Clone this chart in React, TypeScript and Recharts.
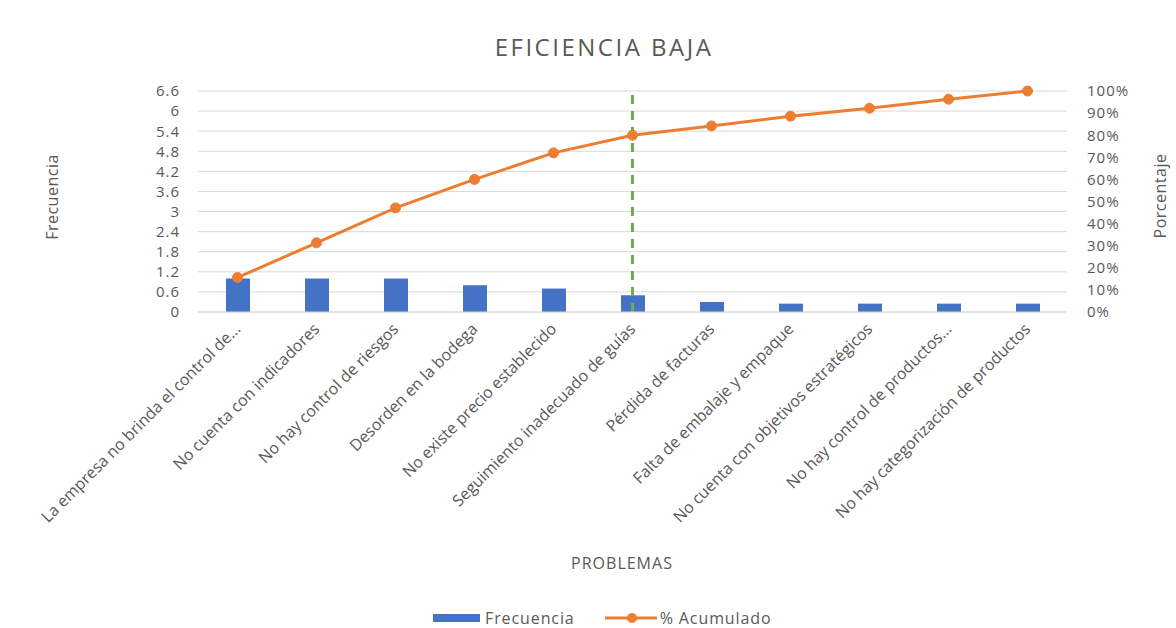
import React from 'react';
import {
  ComposedChart,
  Bar,
  Line,
  XAxis,
  YAxis,
  CartesianGrid,
  ReferenceLine,
  Legend,
} from 'recharts';

const problemas = [
  'La empresa no brinda el control de...',
  'No cuenta con indicadores',
  'No hay control de riesgos',
  'Desorden en la bodega',
  'No existe precio establecido',
  'Seguimiento inadecuado de guías',
  'Pérdida de facturas',
  'Falta de embalaje y empaque',
  'No cuenta con objetivos estratégicos',
  'No hay control de productos...',
  'No hay categorización de productos',
];

const frecuencia = [1, 1, 1, 0.8, 0.7, 0.5, 0.3, 0.25, 0.25, 0.25, 0.25];

const acumulado = [15.6, 31.3, 47.1, 60.0, 72.0, 80.0, 84.2, 88.6, 92.2, 96.3, 100];

const frecuenciaTicks = [0, 0.6, 1.2, 1.8, 2.4, 3, 3.6, 4.2, 4.8, 5.4, 6, 6.6];
const porcentajeTicks = [0, 10, 20, 30, 40, 50, 60, 70, 80, 90, 100];

// corte 80/20
const corte = problemas[5];

const data = problemas.map((name, i) => ({
  name,
  frecuencia: frecuencia[i],
  acumulado: acumulado[i],
}));

const FONT = '"Open Sans", sans-serif';
const TEXT = '#595959';

const XTick = (props: any) => {
  const { x, y, payload } = props;
  return (
    <g transform={`translate(${x + 4},${y + 10})`}>
      <text textAnchor="end" transform="rotate(-45)" fill={TEXT} fontSize={16} fontFamily={FONT}>
        {payload.value}
      </text>
    </g>
  );
};

const LegendContent = () => (
  <div style={{ display: 'flex', alignItems: 'center', marginLeft: 433, fontFamily: FONT, fontSize: 16, letterSpacing: 0.9, color: TEXT, height: 20 }}>
    <span style={{ display: 'inline-block', width: 47, height: 8, background: '#4472C4', marginRight: 5 }} />
    <span>Frecuencia</span>
    <svg width={52} height={12} style={{ marginLeft: 30, marginRight: 3 }}>
      <line x1={0} y1={6} x2={52} y2={6} stroke="#ED7D31" strokeWidth={3} />
      <circle cx={27} cy={6} r={5} fill="#ED7D31" />
    </svg>
    <span>% Acumulado</span>
  </div>
);

const App: React.FC = () => {
  return (
    <div style={{ position: 'absolute', left: 0, top: 0, width: 1176, height: 628, background: '#fff', fontFamily: FONT }}>
      <div style={{ position: 'absolute', left: 354, top: 32, width: 500, textAlign: 'center', fontSize: 24, letterSpacing: 2.5, lineHeight: '30px', color: TEXT }}>
        EFICIENCIA BAJA
      </div>
      <div style={{ position: 'absolute', left: 52, top: 197, transform: 'translate(-50%, -50%) rotate(-90deg)', fontSize: 16, letterSpacing: 0.5, color: TEXT, whiteSpace: 'nowrap' }}>
        Frecuencia
      </div>
      <div style={{ position: 'absolute', left: 1160, top: 196, transform: 'translate(-50%, -50%) rotate(-90deg)', fontSize: 16, letterSpacing: 0.5, color: TEXT, whiteSpace: 'nowrap' }}>
        Porcentaje
      </div>
      <div style={{ position: 'absolute', left: 622, top: 563, transform: 'translate(-50%, -50%)', fontSize: 16, letterSpacing: 1, color: TEXT, whiteSpace: 'nowrap' }}>
        PROBLEMAS
      </div>
      <ComposedChart
        width={1176}
        height={628}
        data={data}
        margin={{ top: 91, right: 29, left: 138, bottom: 0 }}
      >
        <CartesianGrid yAxisId="left" vertical={false} stroke="#d9d9d9" />
        <XAxis
          dataKey="name"
          interval={0}
          height={296}
          tick={<XTick />}
          tickLine={false}
          axisLine={{ stroke: '#d9d9d9' }}
        />
        <YAxis
          yAxisId="left"
          width={60}
          domain={[0, 6.6]}
          ticks={frecuenciaTicks}
          interval={0}
          axisLine={false}
          tickLine={false}
          tickMargin={12}
          tick={{ fill: TEXT, fontSize: 15, letterSpacing: 1, fontFamily: FONT }}
        />
        <YAxis
          yAxisId="right"
          orientation="right"
          width={80}
          domain={[0, 100]}
          ticks={porcentajeTicks}
          interval={0}
          tickFormatter={(v) => `${v}%`}
          axisLine={false}
          tickLine={false}
          tickMargin={14}
          tick={{ fill: TEXT, fontSize: 15, letterSpacing: 1, fontFamily: FONT, textAnchor: 'start' }}
        />
        <Legend
          verticalAlign="bottom"
          height={20}
          wrapperStyle={{ left: 0, width: 1176, bottom: 0 }}
          content={<LegendContent />}
        />
        <Bar yAxisId="left" dataKey="frecuencia" name="Frecuencia" fill="#4472C4" barSize={24} isAnimationActive={false} />
        <Line
          yAxisId="right"
          type="linear"
          dataKey="acumulado"
          name="% Acumulado"
          stroke="#ED7D31"
          strokeWidth={3}
          dot={{ r: 5, fill: '#ED7D31', stroke: '#ED7D31', strokeWidth: 1 }}
          isAnimationActive={false}
        />
        <ReferenceLine yAxisId="left" x={corte} stroke="#70AD47" strokeWidth={3} strokeDasharray="9 7" />
      </ComposedChart>
    </div>
  );
};

export default App;
